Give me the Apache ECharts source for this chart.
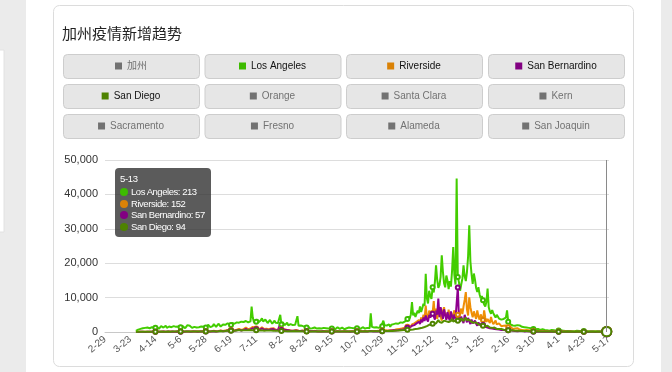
<!DOCTYPE html>
<html><head><meta charset="utf-8">
<script src="https://cdn.jsdelivr.net/npm/echarts@6/dist/echarts.min.js"></script>
<style>html,body{margin:0;padding:0;background:#fff;overflow:hidden}#c{width:672px;height:372px}</style>
</head><body><div id="c"></div>
<script>
// ---------- data ----------
const titleText = '加州疫情新增趋势';
const legendNames = ['加州','Los Angeles','Riverside','San Bernardino','San Diego','Orange','Santa Clara','Kern','Sacramento','Fresno','Alameda','San Joaquin'];
const activeNames = ['Los Angeles','Riverside','San Bernardino','San Diego'];
const seriesColors = {'Los Angeles':'#3dbb00','Riverside':'#da8206','San Bernardino':'#820082','San Diego':'#4e8200'};
// date range of the category axis (dates not present in the source are skipped)
const dateStart = '2020-02-29', dateEnd = '2021-05-17';
const skippedDates = ['2020-3-1','2021-5-15','2021-5-16'];
const firstDataIndex = 27; // series begin here (earlier dates have no value)
const tooltipDate = '5-13';

const losAngeles = [
300,500,700,600,900,800,1100,1000,1200,900,1300,1500,1100,1200,1400,1000,1300,
1200,1600,1100,900,1400,1700,2100,1300,1500,1800,1200,1000,1600,1900,1400,1300,1700,2200,1500,1100,1600,1800,
1400,1900,1700,1300,1100,1600,2000,1500,1800,1400,1200,1700,1500,1900,1300,1100,1400,1800,1600,1200,1500,1700,
1300,1600,2100,1800,1400,1200,1700,2300,1900,1500,1800,2400,2000,1600,1400,2200,2600,2100,1700,2500,2800,2300,
2000,2600,3100,2400,1900,2800,3300,2700,2200,3000,3500,2900,2500,3200,3600,2800,2400,3100,7400,4200,2900,3300,
3000,3700,2800,2500,3400,4000,3100,2700,3600,3200,2600,2900,3500,3000,2400,2800,3300,2700,2200,2600,2600,5000,
2200,2900,2500,2000,2400,2700,1900,1700,2300,2600,2000,1600,2100,2400,4600,1800,1500,1900,2200,1700,1400,1600,
1300,1600,1200,1000,1400,1100,900,1300,1200,1000,800,1100,1300,1000,900,1200,1400,1100,800,1000,1200,900,
1000,1300,1100,800,1200,1400,1000,900,1100,1300,1000,800,1200,1100,900,1300,1500,1200,1000,1100,1400,1200,
1100,1300,1000,900,1200,1400,1100,1000,1300,1200,900,1100,5400,1500,1200,1300,1000,1400,1600,1200,1100,1500,
1700,3300,2000,1600,1900,2400,2200,1500,2100,2600,2300,1800,2500,3000,2400,2100,2800,3300,2700,2400,3100,3600,
3800,4500,3900,5100,8700,4800,5600,4400,4100,6200,5500,7400,5800,6900,8200,7600,16900,9800,8300,12000,10500,9600,
13000,11500,14500,19400,15200,12800,13600,16000,22300,17500,14200,13000,16400,15000,12500,14800,13200,17800,24700,16500,13800,44600,
16000,14500,12000,13800,15500,19400,16200,14800,17500,22000,31000,20500,16800,14000,17000,15200,12800,11600,13000,11000,9800,10500,
9200,8000,7400,8800,12600,7200,6000,5300,6400,5500,4800,4200,5000,4500,3900,4300,3600,4100,3800,3300,4200,6300,
3000,2600,2200,2500,1900,2100,1800,2300,2000,1600,1900,1700,1500,1800,1400,1600,1300,1500,1200,1400,1100,1300,
900,1000,800,700,900,800,600,700,800,500,600,700,500,600,400,500,600,400,500,300,400,500,
400,300,500,300,400,200,300,400,300,200,300,400,200,300,200,300,400,200,300,200,300,200,
300,200,300,200,250,300,200,150,200,250,200,150,200,100,200,150,100,200,150,100,213,150,
120];

const riverside = [
20,30,40,50,40,60,70,50,80,60,90,70,60,100,80,90,70,
100,80,120,90,110,70,130,150,100,90,140,120,80,160,110,100,130,90,150,170,120,100,
120,150,110,90,180,140,200,130,160,120,190,210,150,130,170,230,180,140,200,250,190,170,
220,260,200,180,300,240,210,350,280,230,400,320,270,450,380,300,520,410,350,600,480,420,
550,700,600,480,800,650,560,900,750,620,1100,850,700,1300,950,800,1200,1000,850,1500,1100,900,
1000,1300,900,800,1200,1400,1000,850,1100,950,1300,800,900,1000,750,1100,850,700,900,650,800,600,
700,550,650,800,500,600,450,550,700,400,500,350,450,600,400,350,500,300,400,450,350,300,
250,300,350,250,200,300,250,350,200,250,300,200,250,150,200,300,250,200,150,250,200,180,
200,250,180,150,220,260,200,170,230,190,160,250,210,180,240,200,170,230,260,200,180,220,
250,200,230,280,220,190,260,300,240,210,270,320,400,280,250,310,350,290,270,380,330,300,
400,350,450,500,380,420,550,480,600,520,700,650,580,800,720,900,850,1000,950,1200,1100,1400,
1500,1300,1800,1600,2200,1900,2500,2100,3000,2600,3500,2800,4200,3300,5000,3800,7700,4500,3600,6200,5200,4800,
5500,9000,4200,6800,3800,5600,7000,4500,3300,6100,7200,4800,5400,3900,6500,4200,5800,3500,4900,6300,4400,3800,
5000,4100,3600,6800,5200,7400,9300,11600,6500,4800,10100,7200,5600,4300,6000,4900,3800,6300,4500,3600,5100,4200,
3500,6300,4100,2900,3800,3200,2600,4400,3000,2300,2700,3300,2200,1900,2500,2000,1700,2200,1800,1500,1900,1600,
1400,1200,1500,1100,900,1300,1000,800,1100,900,700,800,600,700,500,600,550,450,500,400,450,350,
300,350,280,250,300,220,260,200,240,180,220,160,200,150,180,140,160,130,150,120,140,110,
120,100,130,90,110,100,120,80,100,90,110,80,100,70,90,80,100,70,90,80,70,60,
80,70,60,90,70,60,80,50,70,60,80,50,70,60,50,70,60,40,60,50,152,60,
50];

const sanBernardino = [
10,20,30,20,40,30,50,40,30,60,50,40,70,50,60,80,60,
70,90,60,80,100,70,90,110,80,60,100,120,90,70,110,130,100,80,120,140,110,90,
100,130,90,80,150,120,100,140,110,90,160,130,110,150,120,100,180,140,120,160,130,110,
150,190,130,120,220,170,150,250,200,170,300,240,200,350,280,230,400,320,270,450,350,300,
400,500,420,350,600,480,400,700,550,450,800,620,500,900,700,560,1000,760,600,1100,850,700,
800,1000,700,600,900,1100,750,650,850,700,950,600,700,800,550,850,650,500,700,600,900,2400,
600,500,700,450,550,400,500,650,380,450,350,500,420,300,380,450,320,280,400,300,250,350,
200,250,300,180,220,280,200,160,240,190,150,220,170,140,200,160,130,180,150,120,170,140,
150,180,130,110,160,190,140,120,170,150,110,180,140,120,160,130,100,150,170,130,110,140,
160,130,150,190,140,120,170,200,150,130,180,220,300,190,160,210,240,180,160,230,210,190,
250,220,300,350,260,280,400,330,450,380,500,470,420,600,520,700,640,800,720,950,880,1100,
1200,1000,1400,1300,1800,1500,2000,1700,2500,2100,3000,2300,3600,2800,4200,3200,4800,3700,3000,5000,4200,3800,
5300,4500,3600,6200,5000,9700,4300,7200,5600,3800,6600,4900,3500,5800,4200,3400,6000,4600,3300,5100,3900,4400,
12900,4200,3000,4500,3400,2600,5000,3800,2800,4100,3100,2300,3600,2500,2000,3300,2400,1800,2800,2100,1600,2300,
2000,2600,1500,1800,1300,1600,1100,1400,1000,1200,900,1100,800,950,700,850,600,750,550,650,500,600,
500,450,550,400,350,450,300,400,250,350,300,200,280,250,180,220,200,150,200,170,130,160,
60,120,100,140,90,110,80,120,70,100,90,60,80,70,90,60,70,50,80,60,50,70,
50,60,40,70,50,40,60,30,50,40,60,400,50,40,30,50,40,30,50,40,30,50,
40,30,50,40,30,60,40,30,50,40,30,60,40,30,50,40,30,60,40,30,57,40,
30];

const sanDiego = [
30,40,50,60,40,70,80,60,90,70,100,80,90,110,70,100,90,
100,120,90,80,130,110,140,100,120,90,150,130,110,100,140,160,120,110,150,130,100,140,
120,100,150,130,110,160,140,120,170,150,130,180,160,140,120,170,190,150,130,180,200,160,
170,200,150,140,220,190,170,250,210,180,280,240,200,320,270,230,350,300,260,400,340,290,
380,450,400,330,500,430,370,550,480,410,600,520,450,520,580,480,420,550,600,500,440,470,
500,560,430,400,480,520,440,390,460,410,380,430,360,400,340,380,320,360,300,340,280,320,
300,280,330,260,300,250,280,230,270,240,220,260,210,250,200,230,190,220,180,210,200,170,
180,200,160,150,190,170,140,180,160,130,170,150,120,160,140,130,170,150,120,140,160,130,
150,170,140,120,160,180,140,130,170,150,120,160,140,130,170,150,120,160,180,150,130,160,
170,150,180,200,160,140,190,210,170,150,200,230,260,200,180,220,250,210,190,240,220,200,
250,230,280,300,260,270,320,290,350,320,380,360,340,420,390,450,430,500,470,550,520,600,
650,600,700,680,800,750,900,850,1000,950,1200,1100,1400,1250,1600,1450,1800,1700,1900,2100,2000,2200,
2400,2300,2600,2500,2800,3500,2900,3200,2700,3000,3300,2800,3100,3600,2900,2700,3200,3800,3000,2800,3400,3100,
3300,3800,3100,4000,3500,3200,3700,4200,3400,3000,3600,3200,2900,3100,2700,2500,2800,2400,2200,2500,2100,1900,
1800,2000,1700,1500,1800,1400,1300,1500,1200,1100,1300,1000,900,1100,850,800,900,700,650,750,600,550,
500,550,450,420,480,400,380,420,350,330,370,300,280,320,260,250,280,230,220,250,200,190,
180,200,170,160,190,150,140,170,130,120,150,120,110,140,110,100,130,100,90,120,100,90,
100,90,110,80,100,90,80,100,70,90,80,70,90,80,70,90,80,70,80,70,90,80,
80,70,90,70,80,60,90,70,60,80,70,60,90,70,60,80,70,60,80,70,94,70,
60];

const yTicks = {min: 0, max: 50000, interval: 10000};

// ---------- build ----------
const categories = [];
(function(){
  const s = new Date(dateStart + 'T00:00:00Z'), e = new Date(dateEnd + 'T00:00:00Z');
  for (let d = new Date(s); d <= e; d.setUTCDate(d.getUTCDate() + 1)) {
    const key = d.getUTCFullYear() + '-' + (d.getUTCMonth() + 1) + '-' + d.getUTCDate();
    if (skippedDates.indexOf(key) >= 0) continue;
    categories.push((d.getUTCMonth() + 1) + '-' + d.getUTCDate());
  }
})();
const seriesValues = {'Los Angeles': losAngeles, 'Riverside': riverside, 'San Bernardino': sanBernardino, 'San Diego': sanDiego};
function pad(arr){ const out = []; for (let i = 0; i < firstDataIndex; i++) out.push(null); return out.concat(arr); }

const LEGFONT = "'Liberation Sans','Noto Sans CJK SC',sans-serif";
const cvs = document.createElement('canvas').getContext('2d');
function textW(t, size, fam){ cvs.font = size + 'px ' + fam; return cvs.measureText(t).width; }

const btnX = [63, 204.5, 346, 488], btnW = 136, btnY = [54, 84, 114], btnH = 24;

const graphics = [
  {type:'rect', shape:{x:0,y:0,width:26,height:372}, style:{fill:'#ebebeb'}, silent:true},
  {type:'rect', shape:{x:-2,y:50,width:6,height:182}, style:{fill:'#fff', stroke:'#e2e2e2'}, silent:true},
  {type:'rect', shape:{x:661,y:0,width:11,height:372}, style:{fill:'#ebebeb'}, silent:true},
  {type:'rect', shape:{x:53.5,y:5.5,width:580,height:361,r:6}, style:{fill:'#fff', stroke:'#dcdcdc', lineWidth:1}, silent:true}
];
legendNames.forEach((n, k) => {
  const col = k % 4, row = Math.floor(k / 4);
  graphics.push({type:'rect', shape:{x:btnX[col]+0.5, y:btnY[row]+0.5, width:btnW, height:btnH, r:4},
    style:{fill:'#e6e6e6', stroke:'#cdcdcd', lineWidth:1}, silent:true});
});

const legends = legendNames.map((n, k) => {
  const col = k % 4, row = Math.floor(k / 4);
  const w = 7 + 5 + textW(n, 10, LEGFONT);
  const sel = {}; sel[n] = activeNames.indexOf(n) >= 0;
  return {
    data:[n], selected: sel, left: btnX[col] + btnW/2 - w/2, top: btnY[row] + 6, padding:0,
    icon:'rect', itemWidth:7, itemHeight:7, inactiveColor:'#727272', inactiveBorderWidth:0,
    itemStyle:{borderWidth:0},
    textStyle:{fontSize:10, color:'#111', fontFamily:LEGFONT, lineHeight:12}
  };
});

const series = legendNames.map(n => {
  const vals = seriesValues[n];
  return {
    name:n, type:'line', data: vals ? pad(vals) : [],
    color: seriesColors[n] || '#999',
    symbol:'emptyCircle', symbolSize:4, showSymbol:true,
    lineStyle:{width:2}, connectNulls:false,
    emphasis:{scale:2.3, focus:'none', lineStyle:{width:2}},
    animation:false
  };
});

const chart = echarts.init(document.getElementById('c'), null, {renderer:'canvas'});
chart.setOption({
  animation:false,
  backgroundColor:'#fff',
  graphic: graphics,
  title:{text:titleText, left:62, top:24, padding:0,
    textStyle:{fontSize:15, fontWeight:'normal', color:'#222', fontFamily:"'Noto Sans CJK SC',sans-serif", lineHeight:18}},
  legend: legends,
  grid:{left:105, right:63, top:160, bottom:40, containLabel:false},
  tooltip:{
    trigger:'axis', alwaysShowContent:true, transitionDuration:0, confine:false,
    position:[115,168],
    backgroundColor:'rgba(50,50,50,0.8)', borderWidth:0, padding:[4,6,5,5],
    extraCssText:'box-shadow:none;border-radius:4px;',
    textStyle:{color:'#fff', fontSize:9, fontFamily:"'Liberation Sans',sans-serif"},
    axisPointer:{type:'line', lineStyle:{color:'#8a8a8a', width:1, type:'solid'}, label:{show:false}},
    formatter: function(params){
      let h = '<div style="font-size:9.5px;letter-spacing:-0.3px;line-height:13px;margin-bottom:1px">' + params[0].axisValueLabel + '</div>';
      params.forEach(p => {
        h += '<div style="font-size:9.5px;letter-spacing:-0.45px;line-height:11.6px;white-space:nowrap"><span style="display:inline-block;width:8px;height:8px;border-radius:4px;background:' + p.color + ';margin-right:3px;vertical-align:-1px"></span>' + p.seriesName + ': ' + p.value + '</div>';
      });
      return h;
    }
  },
  xAxis:{
    type:'category', data:categories, boundaryGap:false,
    axisLine:{lineStyle:{color:'#c8c8c8', width:1}},
    axisTick:{show:false},
    axisLabel:{interval:21, rotate:40, margin:6, fontSize:10, color:'#555', fontFamily:"'Liberation Sans',sans-serif"},
    splitLine:{show:false}
  },
  yAxis:{
    type:'value', min:yTicks.min, max:yTicks.max, interval:yTicks.interval,
    axisLine:{show:false}, axisTick:{show:false},
    axisLabel:{fontSize:11, color:'#333', margin:7, fontFamily:"'Liberation Sans',sans-serif",
      formatter: v => v.toLocaleString('en-US')},
    splitLine:{lineStyle:{color:'#dddddd', width:1}}
  },
  series: series
});
const tipIndex = categories.indexOf(tooltipDate, 300);
function showTip(){ chart.dispatchAction({type:'showTip', seriesIndex:1, dataIndex:tipIndex}); }
showTip();
setTimeout(showTip, 50);
</script></body></html>
